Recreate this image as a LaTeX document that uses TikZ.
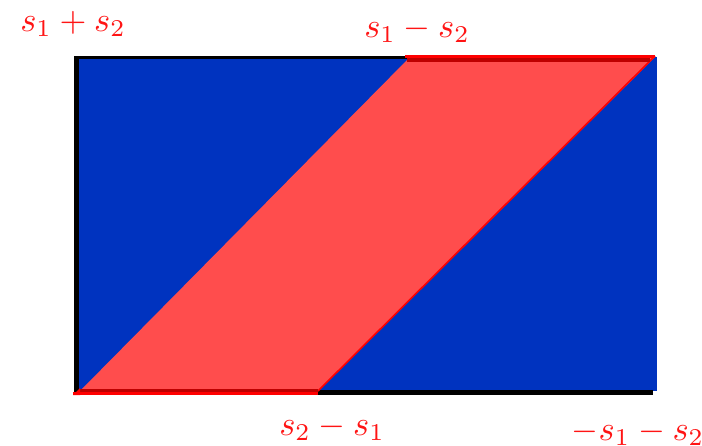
\documentclass[tikz,border=0pt]{standalone}
\definecolor{bgblue}{RGB}{0,51,191}
\definecolor{parred}{RGB}{255,77,77}
\definecolor{darkred}{RGB}{190,0,0}
\definecolor{lblred}{RGB}{255,20,20}
\tikzset{lbl/.style={text=lblred, scale=3.45, inner sep=0pt}}
\begin{document}
\begin{tikzpicture}[x=1pt,y=-1pt]
\useasboundingbox (0,0) rectangle (702,445);
% blue region
\fill[bgblue] (78,57) rectangle (657,391);
% black frame parts
\fill[black] (74,56) rectangle (79,395);
\fill[black] (74,56) rectangle (410,59);
\fill[black] (74,390) rectangle (653,395);
% red parallelogram
\fill[parred] (80,391) -- (318,391) -- (655,57) -- (410,57) -- cycle;
\draw[red, line width=1.6pt] (318,391) -- (655,56);
% top red bars
\fill[darkred] (407,58) rectangle (650,62);
\fill[red] (405,55) rectangle (655,58);
% bottom red bars
\fill[darkred] (80,389) rectangle (318,392);
\fill[red] (73,392) rectangle (318,395);
\fill[red] (73,395) -- (80,388) -- (80,395) -- cycle;
% labels
\node[lbl] (a) at (73,24) {$s_1+s_2$};
\node[lbl] (b) at (417,30) {$s_1-s_2$};
\node[lbl] (c) at (332,428) {$s_2-s_1$};
\node[lbl] (d) at (638,433) {$-s_1-s_2$};
\end{tikzpicture}
\end{document}
